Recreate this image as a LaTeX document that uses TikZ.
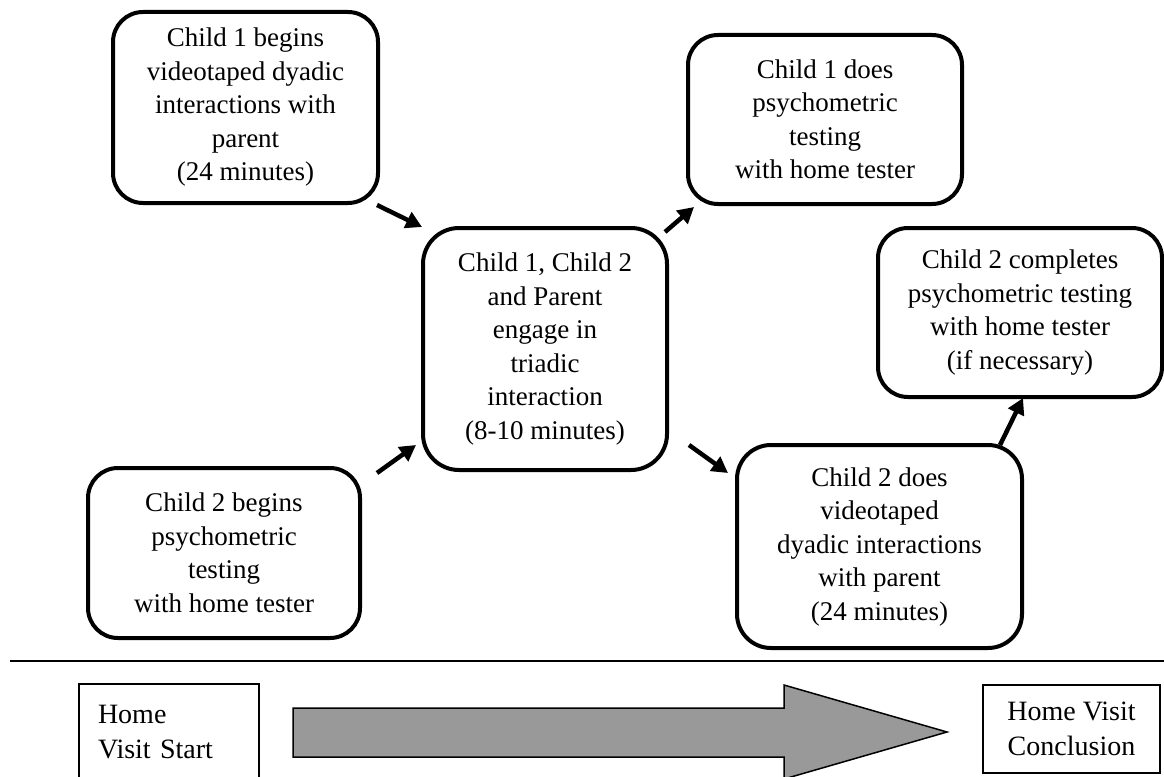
\documentclass[tikz,border=0pt]{standalone}
\usepackage{fontspec}
\setmainfont{Liberation Serif}
\usetikzlibrary{arrows.meta}
\definecolor{arrowgray}{HTML}{999999}
\begin{document}
\begin{tikzpicture}[x=1pt,y=-1pt,
  rbox/.style={draw, line width=4pt, rounded corners=30pt, align=center, inner sep=0pt,
    font=\fontsize{27}{33.5}\selectfont},
  conn/.style={line width=4.5pt, -{Triangle[length=16pt,width=17pt]}},
  sqbox/.style={draw, line width=1.5pt, inner sep=0pt, font=\fontsize{28}{35}\selectfont},
  bigarrow/.style={draw, line width=1.5pt, fill=arrowgray, line join=miter}]
\useasboundingbox (0,0) rectangle (1164,776);
\clip (0,0) rectangle (1164,776);

% rounded process boxes
\node[rbox, minimum width=265pt, minimum height=191pt] (b1) at (245.5,107.5)
  {Child 1 begins\\videotaped dyadic\\interactions with\\parent\\(24 minutes)};
\node[rbox, minimum width=274pt, minimum height=169pt] (b2) at (825,119.5)
  {Child 1 does\\psychometric\\testing\\with home tester};
\node[rbox, rounded corners=36pt, minimum width=244pt, minimum height=242pt] (c) at (545,349)
  {Child 1, Child 2\\and Parent\\engage in\\triadic\\interaction\\(8-10 minutes)};
\node[rbox, minimum width=284pt, minimum height=169pt] (b4) at (1020,312.5)
  {Child 2 completes\\psychometric testing\\with home tester\\(if necessary)};
\node[rbox, rounded corners=34pt, minimum width=285pt, minimum height=203pt] (b5) at (879.5,546.5)
  {Child 2 does\\videotaped\\dyadic interactions\\with parent\\(24 minutes)};
\node[rbox, minimum width=272pt, minimum height=170pt] (b6) at (224,553)
  {Child 2 begins\\psychometric\\testing\\with home tester};

% connectors
\coordinate (a1s) at (377,205);  \coordinate (a1e) at (422,227);
\coordinate (a2s) at (665,232);  \coordinate (a2e) at (694,207);
\coordinate (a3s) at (689,445);  \coordinate (a3e) at (728,473);
\coordinate (a4s) at (1000,445); \coordinate (a4e) at (1023,398);
\coordinate (a5s) at (377,473);  \coordinate (a5e) at (416,445);
\draw[conn] (a1s) -- (a1e);
\draw[conn] (a2s) -- (a2e);
\draw[conn] (a3s) -- (a3e);
\draw[conn] (a4s) -- (a4e);
\draw[conn] (a5s) -- (a5e);

% separator line
\coordinate (sepL) at (10,661);
\coordinate (sepR) at (1164,661);
\draw[line width=2pt] (sepL) -- (sepR);

% timeline
\node[sqbox, minimum width=180pt, minimum height=96pt, text width=142pt, inner xsep=19pt,
  align=left] (start) at (169,732) {Home\\Visit Start};
\node[sqbox, minimum width=177pt, minimum height=88pt, align=center] (end) at (1071.5,729)
  {Home Visit\\Conclusion};
\draw[bigarrow] (293,708) -- (784,708) -- (784,685) -- (947,732) -- (784,779)
  -- (784,757) -- (293,757) -- cycle;
\end{tikzpicture}
\end{document}
